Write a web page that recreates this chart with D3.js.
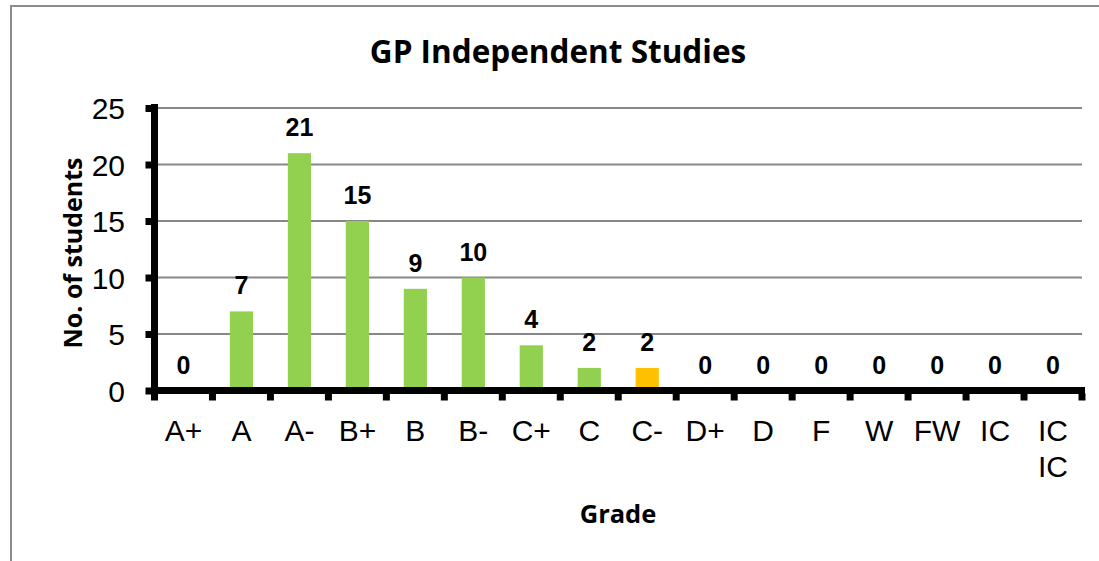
<!DOCTYPE html>
<html>
<head>
<meta charset="utf-8">
<script src="https://cdn.jsdelivr.net/npm/d3@7"></script>
<style>
  body { margin: 0; background: #fff; }
  svg { display: block; }
</style>
</head>
<body>
<svg id="chart"></svg>
<script>
var width = 1099;
var height = 561;

// data
var grades = ["A+", "A", "A-", "B+", "B", "B-", "C+", "C", "C-", "D+", "D", "F", "W", "FW", "IC", "IC IC"];
var students = [0, 7, 21, 15, 9, 10, 4, 2, 2, 0, 0, 0, 0, 0, 0, 0];
var barColors = ["#92d050", "#92d050", "#92d050", "#92d050", "#92d050", "#92d050", "#92d050", "#92d050", "#ffc000",
  "#92d050", "#92d050", "#92d050", "#92d050", "#92d050", "#92d050", "#92d050"];
var yTicks = [0, 5, 10, 15, 20, 25];

var data = grades.map((g, i) => ({ grade: g, value: students[i], color: barColors[i] }));

var svg = d3.select("#chart").attr("width", width).attr("height", height);

// outer frame
svg.append("rect")
  .attr("x", 11).attr("y", 6)
  .attr("width", 1100).attr("height", 600)
  .attr("fill", "none")
  .attr("stroke", "#8c8c8c")
  .attr("stroke-width", 2);

var xScale = d3.scaleBand()
  .domain(grades)
  .range([154.5, 1082])
  .paddingInner(0.6)
  .paddingOuter(0.3);

var yScale = d3.scaleLinear()
  .domain([0, 25])
  .range([390.5, 108]);

// gridlines
svg.append("g")
  .selectAll("line")
  .data(yTicks.slice(1))
  .enter()
  .append("line")
  .attr("x1", 158)
  .attr("x2", 1082)
  .attr("y1", (d) => yScale(d))
  .attr("y2", (d) => yScale(d))
  .attr("stroke", "#878787")
  .attr("stroke-width", 2);

// bars
svg.append("g")
  .selectAll("rect")
  .data(data)
  .enter()
  .append("rect")
  .attr("x", (d) => xScale(d.grade))
  .attr("width", xScale.bandwidth())
  .attr("y", (d) => yScale(d.value))
  .attr("height", (d) => yScale(0) - yScale(d.value))
  .attr("fill", (d) => d.color);

// y axis
var yAxis = d3.axisLeft(yScale)
  .tickValues(yTicks)
  .tickSize(0)
  .tickPadding(29.5);

var gy = svg.append("g")
  .attr("transform", "translate(154.5, 0)")
  .call(yAxis);
gy.select(".domain")
  .attr("d", `M0,${yScale(25) - 4}V${yScale(0) + 3}`)
  .attr("stroke", "#000")
  .attr("stroke-width", 7);
gy.selectAll(".tick text")
  .attr("font-family", "Liberation Sans, Arial, sans-serif")
  .attr("font-size", 30)
  .attr("fill", "#000")
  .attr("dy", "0.36em");
gy.selectAll(".tick")
  .append("rect")
  .attr("x", -9).attr("y", -3.5)
  .attr("width", 7).attr("height", 7)
  .attr("fill", "#000");

// x axis
var xAxis = d3.axisBottom(xScale).tickSize(0).tickPadding(0).tickFormat("");
var gx = svg.append("g")
  .attr("transform", `translate(0, ${yScale(0)})`)
  .call(xAxis);
gx.select(".domain")
  .attr("d", `M151,0H1085`)
  .attr("stroke", "#000")
  .attr("stroke-width", 7);

// x tick marks at band edges
var step = xScale.step();
var edges = d3.range(grades.length + 1).map((i) => xScale.range()[0] + i * step);
gx.selectAll(".edge")
  .data(edges)
  .enter()
  .append("rect")
  .attr("class", "edge")
  .attr("x", (d) => d - 3.5)
  .attr("y", 3)
  .attr("width", 7)
  .attr("height", 7)
  .attr("fill", "#000");

// x labels (split "IC IC" over two lines)
gx.selectAll(".lab")
  .data(grades)
  .enter()
  .append("text")
  .attr("class", "lab")
  .attr("text-anchor", "middle")
  .attr("font-family", "Liberation Sans, Arial, sans-serif")
  .attr("font-size", 30)
  .attr("fill", "#000")
  .each(function (d) {
    var parts = d.split(" ");
    var t = d3.select(this);
    parts.forEach((p, i) => {
      t.append("tspan")
        .attr("x", xScale(d) + xScale.bandwidth() / 2)
        .attr("y", 50 + i * 36)
        .text(p);
    });
  });

// value labels
svg.append("g")
  .selectAll("text")
  .data(data)
  .enter()
  .append("text")
  .attr("x", (d) => xScale(d.grade) + xScale.bandwidth() / 2)
  .attr("y", (d) => yScale(d.value) - 17)
  .attr("text-anchor", "middle")
  .attr("font-family", "Liberation Sans, Arial, sans-serif")
  .attr("font-weight", "bold")
  .attr("font-size", 25)
  .attr("fill", "#000")
  .text((d) => d.value);

// titles
svg.append("text")
  .attr("x", 558)
  .attr("y", 63)
  .attr("text-anchor", "middle")
  .attr("font-family", "Open Sans, sans-serif")
  .attr("font-weight", "bold")
  .attr("font-size", 31.5)
  .text("GP Independent Studies");

svg.append("text")
  .attr("x", 618)
  .attr("y", 523)
  .attr("text-anchor", "middle")
  .attr("font-family", "Open Sans, sans-serif")
  .attr("font-weight", "bold")
  .attr("font-size", 25.5)
  .text("Grade");

svg.append("text")
  .attr("transform", "translate(82, 253) rotate(-90)")
  .attr("text-anchor", "middle")
  .attr("font-family", "Open Sans, sans-serif")
  .attr("font-weight", "bold")
  .attr("font-size", 25)
  .text("No. of students");
</script>
</body>
</html>
